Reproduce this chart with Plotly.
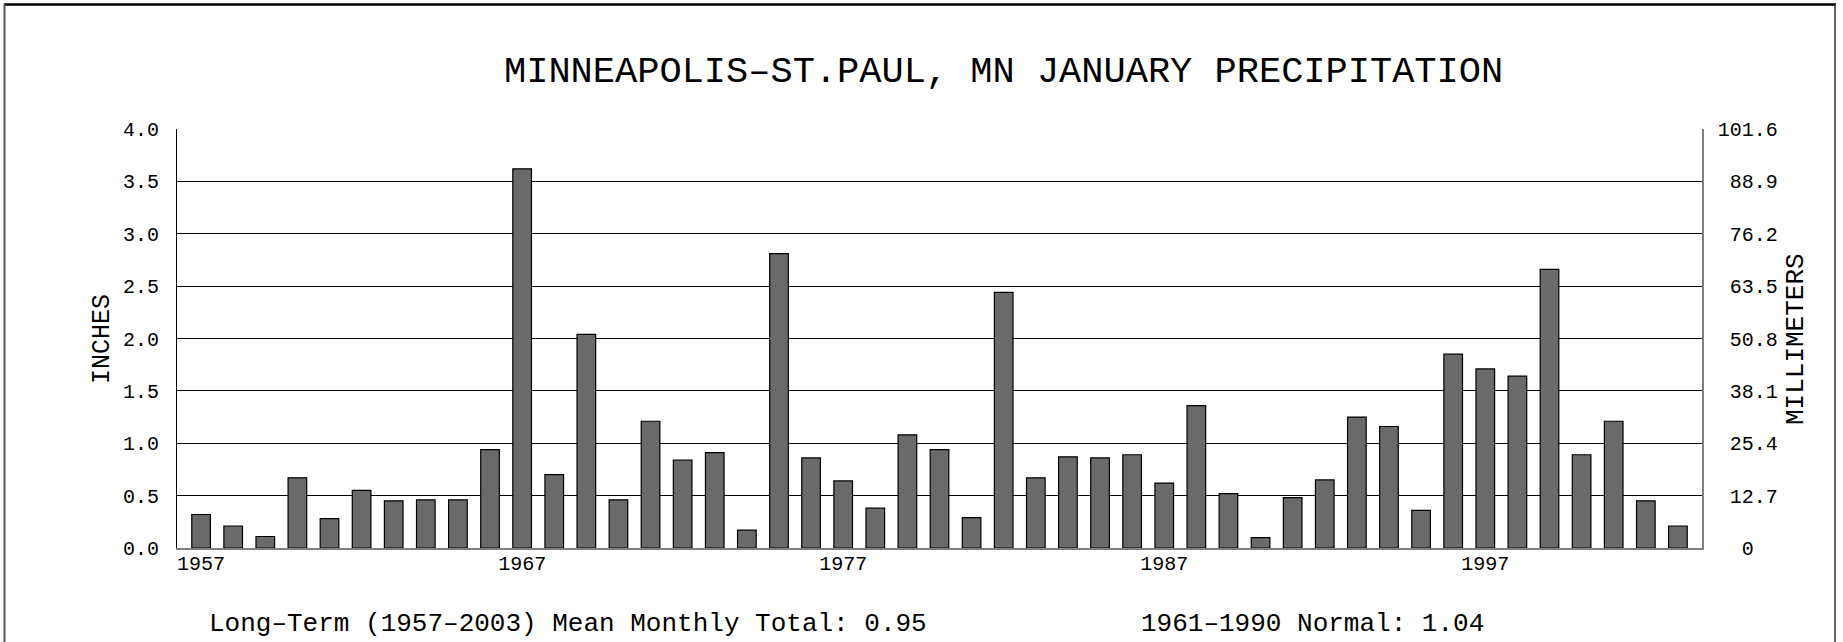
import plotly.graph_objects as go

years = list(range(1957, 2004))
precip_in = [0.32, 0.21, 0.11, 0.67, 0.28, 0.55, 0.45, 0.46, 0.46, 0.94,
             3.62, 0.70, 2.04, 0.46, 1.21, 0.84, 0.91, 0.17, 2.81, 0.86,
             0.64, 0.38, 1.08, 0.94, 0.29, 2.44, 0.67, 0.87, 0.86, 0.89,
             0.62, 1.36, 0.52, 0.10, 0.48, 0.65, 1.25, 1.16, 0.36, 1.85,
             1.71, 1.64, 2.66, 0.89, 1.21, 0.45, 0.21]
x_tick_vals = [1957, 1967, 1977, 1987, 1997]
in_ticks = [0.0, 0.5, 1.0, 1.5, 2.0, 2.5, 3.0, 3.5, 4.0]
mm_ticks = [0, 12.7, 25.4, 38.1, 50.8, 63.5, 76.2, 88.9, 101.6]
mm_labels = ["\u00a0\u00a00", "\u00a012.7", "\u00a025.4", "\u00a038.1", "\u00a050.8",
             "\u00a063.5", "\u00a076.2", "\u00a088.9", "101.6"]
title_text = "MINNEAPOLIS\u2013ST.PAUL, MN JANUARY PRECIPITATION"
mean_text = "Long\u2013Term (1957\u20132003) Mean Monthly Total: 0.95"
normal_text = "1961\u20131990 Normal: 1.04"

FONT = "Liberation Mono"
W, H = 1843, 642
L, R, T, B = 177, 141, 129, 94
pw, ph = W - L - R, H - T - B

def px(xp):
    return (xp - L) / pw

def py(yp):
    return (H - B - yp) / ph

fig = go.Figure()
fig.add_trace(go.Bar(x=years, y=precip_in, marker=dict(color="#6a6a6a", line=dict(color="black", width=1.2)),
                     hoverinfo="x+y"))
fig.add_trace(go.Scatter(x=years, y=[v * 25.4 for v in precip_in], yaxis="y2", mode="markers",
                         marker=dict(opacity=0), hoverinfo="skip", showlegend=False))

fig.update_layout(
    width=W, height=H,
    margin=dict(l=L, r=R, t=T, b=B),
    paper_bgcolor="white", plot_bgcolor="white",
    showlegend=False, bargap=0.42,
    font=dict(family=FONT, color="black", size=20),
    xaxis=dict(range=[1956.25, 2003.75], tickvals=x_tick_vals, ticktext=[str(v) for v in x_tick_vals],
               showgrid=False, zeroline=False, showline=True, linecolor="#808080", linewidth=2,
               ticks="", ticklabelstandoff=-4, tickfont=dict(family=FONT, size=20)),
    yaxis=dict(range=[0, 4.0], tickvals=in_ticks, tickformat=".1f", showgrid=True, gridcolor="black",
               gridwidth=1, zeroline=False, showline=True, linecolor="black", linewidth=1,
               ticks="", ticklabelstandoff=13, tickfont=dict(family=FONT, size=20)),
    yaxis2=dict(range=[0, 101.6], tickvals=mm_ticks, ticktext=mm_labels, overlaying="y", side="right",
                showgrid=False, zeroline=False, showline=True, linecolor="#808080", linewidth=1.5,
                ticks="", ticklabelstandoff=10, tickfont=dict(family=FONT, size=20)),
)

fig.add_annotation(text=title_text, xref="paper", yref="paper", x=px(1003), y=py(72),
                   xanchor="center", yanchor="middle", showarrow=False, font=dict(family=FONT, size=37))
fig.add_annotation(text="INCHES", xref="paper", yref="paper", x=px(102), y=py(339), textangle=-90,
                   xanchor="center", yanchor="middle", showarrow=False, font=dict(family=FONT, size=25))
fig.add_annotation(text="MILLIMETERS", xref="paper", yref="paper", x=px(1796), y=py(339), textangle=-90,
                   xanchor="center", yanchor="middle", showarrow=False, font=dict(family=FONT, size=26))
fig.add_annotation(text=mean_text, xref="paper", yref="paper", x=px(207), y=py(624),
                   xanchor="left", yanchor="middle", showarrow=False, font=dict(family=FONT, size=26))
fig.add_annotation(text=normal_text, xref="paper", yref="paper", x=px(1139), y=py(624),
                   xanchor="left", yanchor="middle", showarrow=False, font=dict(family=FONT, size=26))

# outer frame
fig.add_shape(type="line", xref="paper", yref="paper", x0=px(4), x1=px(1836), y0=py(4.5), y1=py(4.5),
              line=dict(color="black", width=2.5))
fig.add_shape(type="line", xref="paper", yref="paper", x0=px(4.5), x1=px(4.5), y0=py(4), y1=py(660),
              line=dict(color="#555555", width=2))
fig.add_shape(type="line", xref="paper", yref="paper", x0=px(1835), x1=px(1835), y0=py(4), y1=py(660),
              line=dict(color="#333333", width=1.5))

fig.write_html("out.html", config={"displayModeBar": False},
               post_script="document.body.style.margin='0';document.body.style.padding='0';"
                           "document.body.style.overflow='hidden';")
